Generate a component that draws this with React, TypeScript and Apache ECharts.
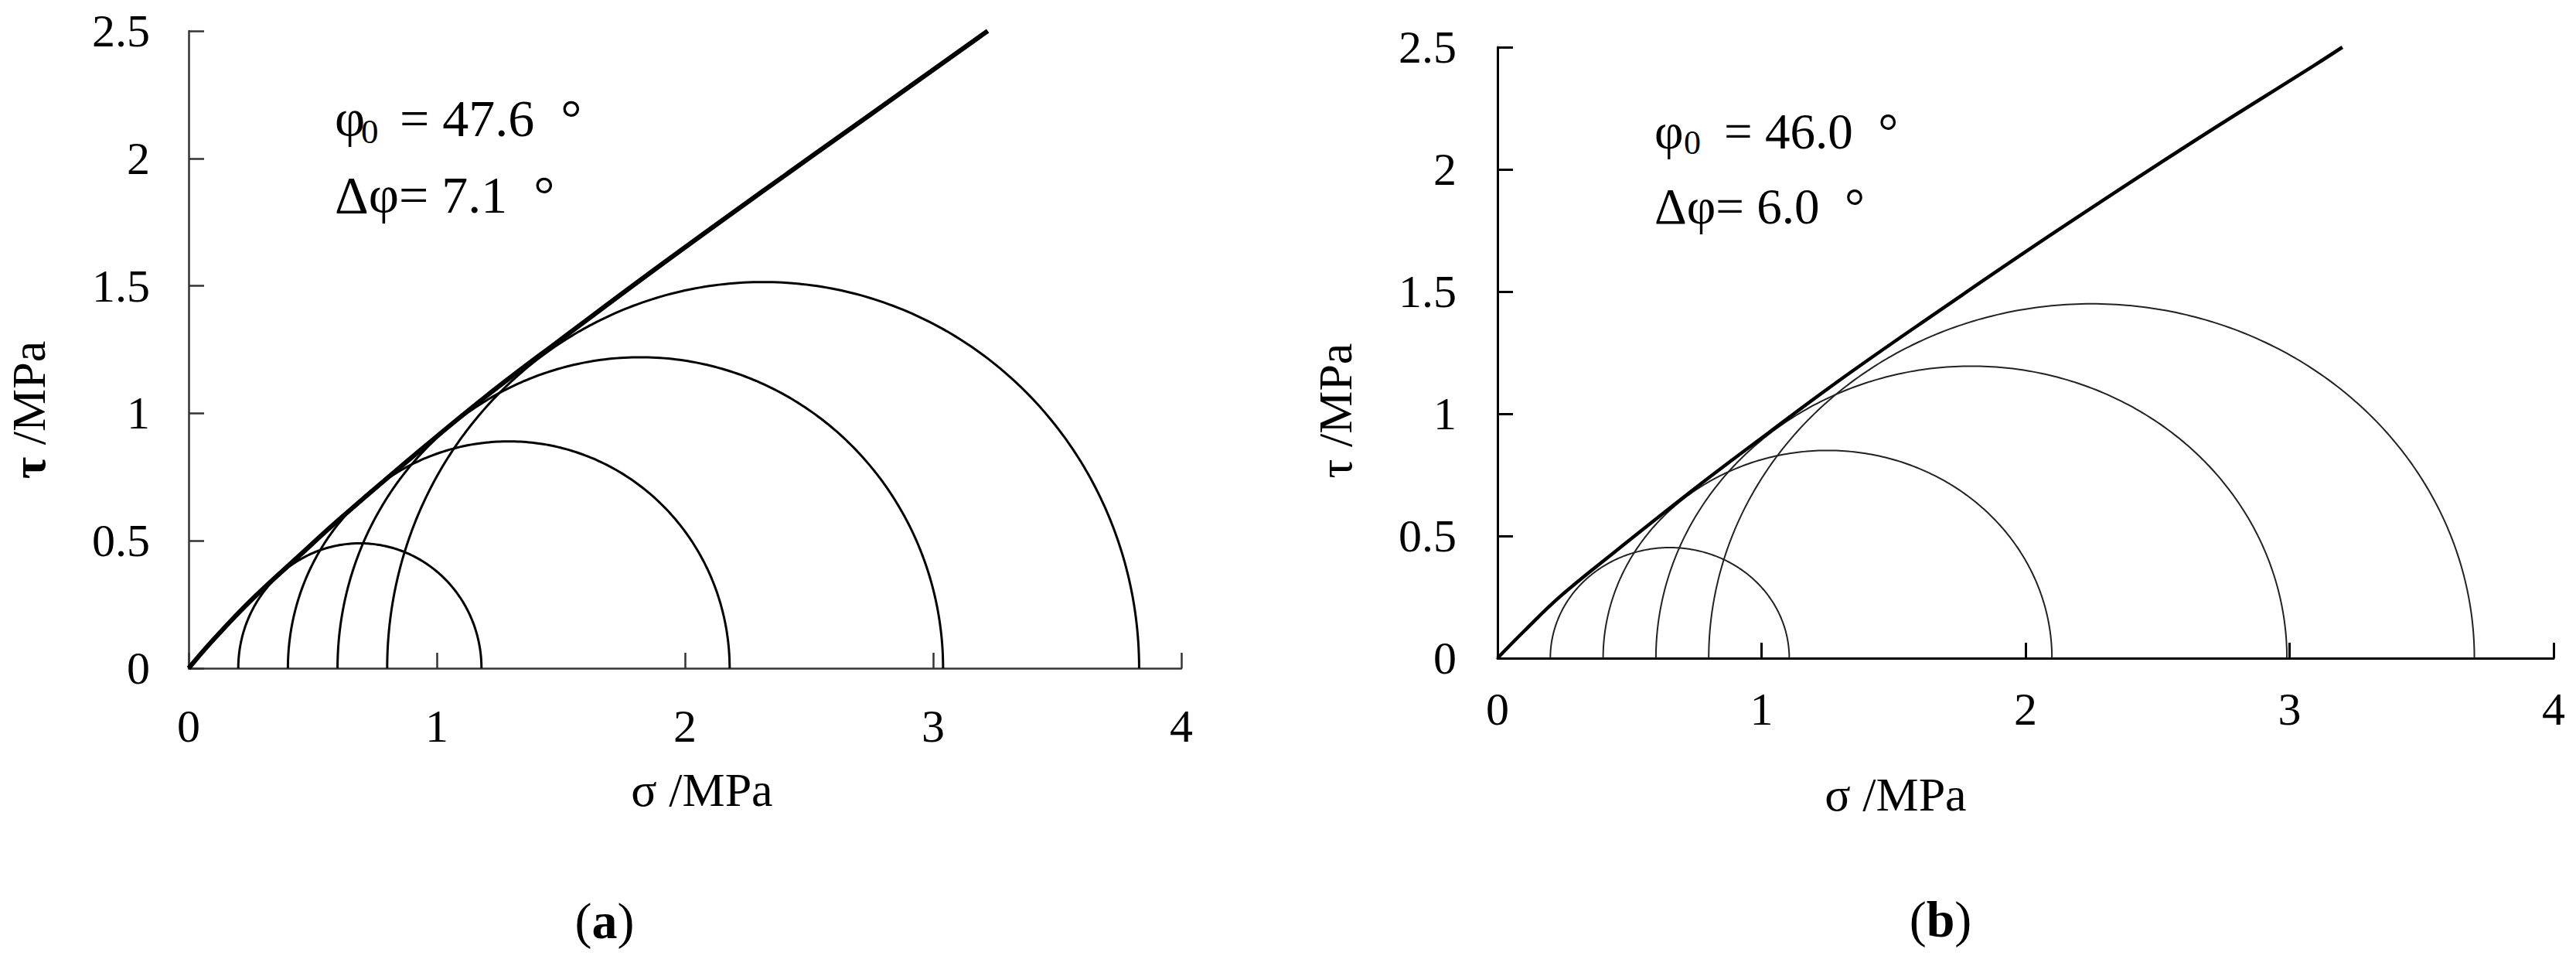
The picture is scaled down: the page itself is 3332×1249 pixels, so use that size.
import React, { useEffect, useRef } from "react";
import * as echarts from "echarts";

// Mohr circles: minor / major principal stress (MPa)
const sigma3A = [0.2, 0.4, 0.6, 0.8];
const sigma1A = [1.18, 2.18, 3.04, 3.83];
const sigma3B = [0.2, 0.4, 0.6, 0.8];
const sigma1B = [1.105, 2.1, 2.99, 3.7];

// nonlinear strength envelopes
const envSigmaA = [0, 0.1, 0.25, 0.45, 0.6, 0.9, 1.2, 1.5, 1.9, 2.3, 2.75, 3.22];
const envTauA = [0, 0.112, 0.265, 0.445, 0.578, 0.828, 1.068, 1.29, 1.58, 1.862, 2.174, 2.5];
const envSigmaB = [0, 0.1, 0.24, 0.45, 0.76, 1.03, 1.29, 1.59, 2.1, 2.63, 3.1, 3.2];
const envTauB = [0, 0.11, 0.255, 0.44, 0.705, 0.925, 1.133, 1.36, 1.735, 2.11, 2.43, 2.5];

const sigmaMax = 4;
const sigmaStep = 1;
const tauMax = 2.5;
const tauStep = 0.5;

const phi0 = ["47.6", "46.0"];
const dPhi = ["7.1", "6.0"];

const FONT = "'Liberation Serif', 'Times New Roman', serif";

function semicircle(s3: number, s1: number, n = 240) {
  const c = (s1 + s3) / 2;
  const r = (s1 - s3) / 2;
  const pts: number[][] = [];
  for (let i = 0; i <= n; i++) {
    const t = Math.PI - (Math.PI * i) / n;
    pts.push([c + r * Math.cos(t), r * Math.sin(t)]);
  }
  return pts;
}

function axes(gridIndex: number, axisColor: string, axisWidth: number, xMargin: number, yMargin: number) {
  const common = {
    gridIndex,
    type: "value" as const,
    splitLine: { show: false },
    axisLine: { show: true, onZero: false, lineStyle: { color: axisColor, width: axisWidth } },
    axisTick: { show: true, inside: true, length: 20, lineStyle: { color: axisColor, width: axisWidth } },
  };
  return {
    x: {
      ...common,
      min: 0,
      max: sigmaMax,
      interval: sigmaStep,
      axisLabel: { margin: xMargin, fontSize: 60, fontFamily: FONT, color: "#000" },
    },
    y: {
      ...common,
      min: 0,
      max: tauMax,
      interval: tauStep,
      axisLabel: { margin: yMargin, fontSize: 60, fontFamily: FONT, color: "#000" },
    },
  };
}

function txt(text: string, x: number, y: number, fontSize: number, extra: any = {}) {
  return {
    type: "text",
    x,
    y,
    style: {
      text,
      fontSize,
      fontFamily: FONT,
      fill: "#000",
      align: "left",
      verticalAlign: "middle",
      ...extra,
    },
  };
}

export default function App() {
  const ref = useRef<HTMLDivElement>(null);

  useEffect(() => {
    document.body.style.margin = "0";
    if (!ref.current) return;
    const chart = echarts.init(ref.current, undefined, { renderer: "svg" });

    const a = axes(0, "#333", 2.5, 45, 50);
    const b = axes(1, "#000", 3, 36, 53);

    const circleSeries = (s3: number[], s1: number[], idx: number, color: string, width: number) =>
      s3.map((v, i) => ({
        type: "line",
        xAxisIndex: idx,
        yAxisIndex: idx,
        data: semicircle(v, s1[i]),
        showSymbol: false,
        symbol: "none",
        lineStyle: { color, width },
        z: 2,
      }));

    const option: any = {
      animation: false,
      backgroundColor: "#fff",
      grid: [
        { left: 244, top: 40, width: 1284, height: 824 },
        { left: 1937, top: 61, width: 1366, height: 790 },
      ],
      xAxis: [a.x, b.x],
      yAxis: [a.y, b.y],
      series: [
        ...circleSeries(sigma3A, sigma1A, 0, "#000", 3),
        ...circleSeries(sigma3B, sigma1B, 1, "#222", 2),
        {
          type: "line",
          xAxisIndex: 0,
          yAxisIndex: 0,
          data: envSigmaA.map((s, i) => [s, envTauA[i]]),
          smooth: 0.4,
          showSymbol: false,
          symbol: "none",
          lineStyle: { color: "#000", width: 6 },
          z: 3,
        },
        {
          type: "line",
          xAxisIndex: 1,
          yAxisIndex: 1,
          data: envSigmaB.map((s, i) => [s, envTauB[i]]),
          smooth: 0.4,
          showSymbol: false,
          symbol: "none",
          lineStyle: { color: "#000", width: 4.5 },
          z: 3,
        },
      ],
      graphic: [
        // axis names
        txt("σ /MPa", 908, 1021, 62, { align: "center" }),
        txt("σ /MPa", 2452, 1027, 62, { align: "center" }),
        {
          type: "text",
          x: 37,
          y: 530,
          rotation: Math.PI / 2,
          style: {
            text: "{t|τ} /MPa",
            fontSize: 62,
            fontFamily: FONT,
            fill: "#000",
            align: "center",
            verticalAlign: "middle",
            rich: { t: { fontSize: 62, fontFamily: FONT, fontWeight: "bold", fill: "#000" } },
          },
        },
        {
          type: "text",
          x: 1727,
          y: 531,
          rotation: Math.PI / 2,
          style: {
            text: "τ /MPa",
            fontSize: 62,
            fontFamily: FONT,
            fill: "#000",
            align: "center",
            verticalAlign: "middle",
          },
        },
        // annotations (a)
        txt("φ", 433, 153, 68),
        txt("0", 467, 170, 45),
        txt(`= ${phi0[0]}\u00a0\u00a0°`, 517, 153, 68),
        txt(`Δφ= ${dPhi[0]}\u00a0\u00a0°`, 433, 252, 68),
        // annotations (b)
        txt("φ", 2140, 170, 65),
        txt("0", 2178, 184, 44),
        txt(`= ${phi0[1]}\u00a0\u00a0°`, 2230, 170, 65),
        txt(`Δφ= ${dPhi[1]}\u00a0\u00a0°`, 2140, 267, 65),
        // panel labels
        {
          type: "text",
          x: 782,
          y: 1190,
          style: {
            text: "({b|a})",
            fontSize: 66,
            fontFamily: FONT,
            fill: "#000",
            align: "center",
            verticalAlign: "middle",
            rich: { b: { fontSize: 66, fontFamily: FONT, fontWeight: "bold", fill: "#000" } },
          },
        },
        {
          type: "text",
          x: 2510,
          y: 1188,
          style: {
            text: "({b|b})",
            fontSize: 66,
            fontFamily: FONT,
            fill: "#000",
            align: "center",
            verticalAlign: "middle",
            rich: { b: { fontSize: 66, fontFamily: FONT, fontWeight: "bold", fill: "#000" } },
          },
        },
      ],
    };

    chart.setOption(option);
    return () => {
      chart.dispose();
    };
  }, []);

  return <div ref={ref} style={{ width: 3332, height: 1249 }} />;
}
